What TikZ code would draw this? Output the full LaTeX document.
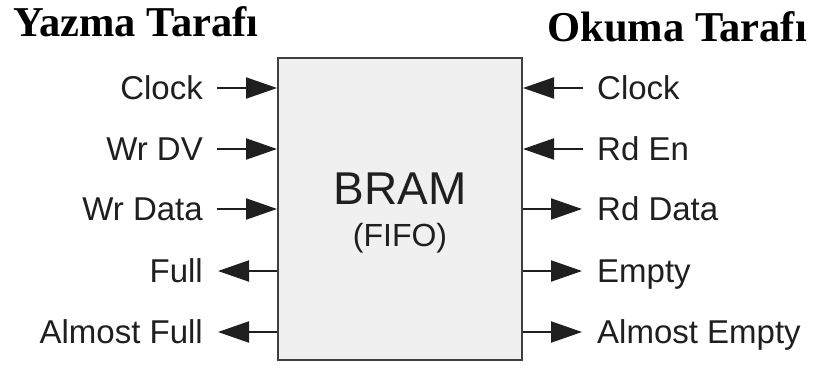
\documentclass[tikz,border=0pt]{standalone}
\usepackage{fontspec}
\setmainfont{Liberation Sans}
\newfontfamily\sidefont{Liberation Serif}
\usetikzlibrary{arrows.meta,positioning}

\begin{document}
\begin{tikzpicture}[
  x=1pt, y=-1pt,
  >={Triangle[length=31pt,width=21pt]},
  every node/.style={font=\fontsize{33}{38}\selectfont, text=black!88},
  sig/.style={text height=23pt, text depth=0pt, inner sep=0pt},
  side/.style={font=\sidefont\bfseries\fontsize{42.5}{46}\selectfont, inner sep=0pt, text=black},
  fifo/.style={draw=black!75, line width=2pt, fill=black!6, minimum width=244pt, minimum height=302pt, inner sep=0pt},
  win/.style={->, line width=2pt, black!88, shorten <=14pt},
  wout/.style={->, line width=2pt, black!88, shorten >=15pt},
]
  \useasboundingbox (0,0) rectangle (814,369);

  % Memory block
  \node[fifo] (fifo) at (400,209) {};
  \node[anchor=base, font=\fontsize{46}{50}\selectfont] (bram) at (400,204) {BRAM};
  \node[anchor=base, font=\fontsize{32}{36}\selectfont] (kind) at (400,246) {(FIFO)};

  % Side titles
  \node[side, anchor=base west] (wside) at (13,37) {Yazma Tarafı};
  \node[side, anchor=base east] (rside) at (807,42) {Okuma Tarafı};

  % Write side signals
  \node[sig, anchor=east] (wclk) at (203,88) {Clock};
  \node[sig, anchor=east] (wdv) at (203,149) {Wr DV};
  \node[sig, anchor=east] (wdata) at (203,209) {Wr Data};
  \node[sig, anchor=east] (full) at (203,271) {Full};
  \node[sig, anchor=east] (afull) at (203,332) {Almost Full};

  \draw[win] (wclk.east) -- (wclk -| fifo.west);
  \draw[win] (wdv.east) -- (wdv -| fifo.west);
  \draw[win] (wdata.east) -- (wdata -| fifo.west);
  \draw[wout] (full -| fifo.west) -- (full.east);
  \draw[wout] (afull -| fifo.west) -- (afull.east);

  % Read side signals
  \node[sig, anchor=west] (rclk) at (597,88) {Clock};
  \node[sig, anchor=west] (ren) at (597,149) {Rd En};
  \node[sig, anchor=west] (rdata) at (597,209) {Rd Data};
  \node[sig, anchor=west] (empty) at (597,271) {Empty};
  \node[sig, anchor=west] (aempty) at (597,332) {Almost Empty};

  \draw[win] (rclk.west) -- (rclk -| fifo.east);
  \draw[win] (ren.west) -- (ren -| fifo.east);
  \draw[wout] (rdata -| fifo.east) -- (rdata.west);
  \draw[wout] (empty -| fifo.east) -- (empty.west);
  \draw[wout] (aempty -| fifo.east) -- (aempty.west);
\end{tikzpicture}
\end{document}
